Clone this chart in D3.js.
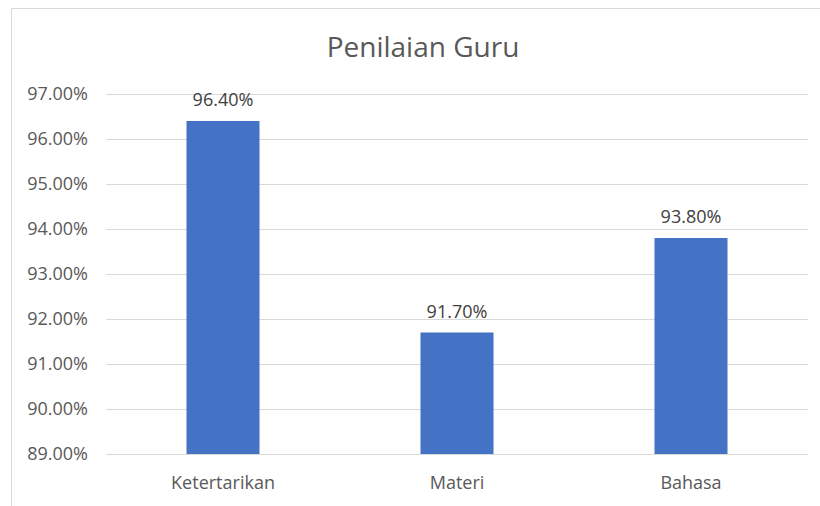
<!DOCTYPE html>
<html>
<head>
<meta charset="utf-8">
<script src="https://cdn.jsdelivr.net/npm/d3@7"></script>
<style>
  html, body { margin: 0; padding: 0; background: white; }
  svg { display: block; font-family: "Open Sans", "Noto Sans", sans-serif; }
</style>
</head>
<body>
<div id="chart"></div>
<script>
var
  categories = ["Ketertarikan", "Materi", "Bahasa"],
  values = [96.4, 91.7, 93.8],
  yTicks = [89, 90, 91, 92, 93, 94, 95, 96, 97],

  WIDTH = 820,
  HEIGHT = 506,

  // plot area, in pixels
  PLOT_LEFT = 106,
  PLOT_RIGHT = 808,
  PLOT_TOP = 94,
  PLOT_BOTTOM = 454,

  BAR_COLOR = "#4472c4",
  GRID_COLOR = "#d9d9d9",
  TEXT_COLOR = "#595959",
  FONT_SIZE = "18px";

var svg = d3.select("#chart").append("svg")
  .attr("width", WIDTH)
  .attr("height", HEIGHT);

svg.append("rect")
  .attr("width", WIDTH)
  .attr("height", HEIGHT)
  .attr("fill", "white");

// chart frame (only left and top edges are visible in the picture)
svg.append("path")
  .attr("d", "M11.5," + HEIGHT + "V8.5H" + WIDTH)
  .attr("fill", "none")
  .attr("stroke", GRID_COLOR);

var x = d3.scaleBand()
  .domain(categories)
  .range([PLOT_LEFT, PLOT_RIGHT])
  .paddingInner(0.688)
  .paddingOuter(0.344);

var y = d3.scaleLinear()
  .domain([89, 97])
  .range([PLOT_BOTTOM, PLOT_TOP]);

// gridlines
svg.append("g")
  .selectAll("line")
  .data(yTicks)
  .join("line")
  .attr("x1", PLOT_LEFT)
  .attr("x2", PLOT_RIGHT)
  .attr("y1", function(d){ return Math.round(y(d)) + 0.5; })
  .attr("y2", function(d){ return Math.round(y(d)) + 0.5; })
  .attr("stroke", GRID_COLOR)
  .attr("stroke-width", 1);

// y axis labels
var yAxis = svg.append("g")
  .attr("transform", "translate(" + (PLOT_LEFT - 18) + ",0)")
  .call(d3.axisLeft(y).tickValues(yTicks).tickSize(0).tickPadding(0)
    .tickFormat(function(d){ return d.toFixed(2) + "%"; }));
yAxis.select(".domain").remove();
yAxis.selectAll("text")
  .attr("fill", TEXT_COLOR)
  .style("font-size", FONT_SIZE)
  .style("font-family", "\"Open Sans\", sans-serif");

// bars
svg.append("g")
  .selectAll("rect")
  .data(values)
  .join("rect")
  .attr("x", function(d, i){ return x(categories[i]); })
  .attr("width", x.bandwidth())
  .attr("y", function(d){ return y(d); })
  .attr("height", function(d){ return y(89) - y(d); })
  .attr("fill", BAR_COLOR);

// data labels
svg.append("g")
  .selectAll("text")
  .data(values)
  .join("text")
  .attr("x", function(d, i){ return x(categories[i]) + x.bandwidth() / 2; })
  .attr("y", function(d){ return y(d) - 15; })
  .attr("text-anchor", "middle")
  .attr("fill", "#404040")
  .style("font-size", FONT_SIZE)
  .text(function(d){ return d.toFixed(2) + "%"; });

// category labels
var xAxis = svg.append("g")
  .attr("transform", "translate(0," + PLOT_BOTTOM + ")")
  .call(d3.axisBottom(x).tickSize(0).tickPadding(22));
xAxis.select(".domain").remove();
xAxis.selectAll("text")
  .attr("fill", TEXT_COLOR)
  .style("font-size", FONT_SIZE)
  .style("font-family", "\"Open Sans\", sans-serif");

// title
svg.append("text")
  .attr("x", 423)
  .attr("y", 57)
  .attr("text-anchor", "middle")
  .attr("fill", TEXT_COLOR)
  .style("font-size", "28px")
  .text("Penilaian Guru");
</script>
</body>
</html>
